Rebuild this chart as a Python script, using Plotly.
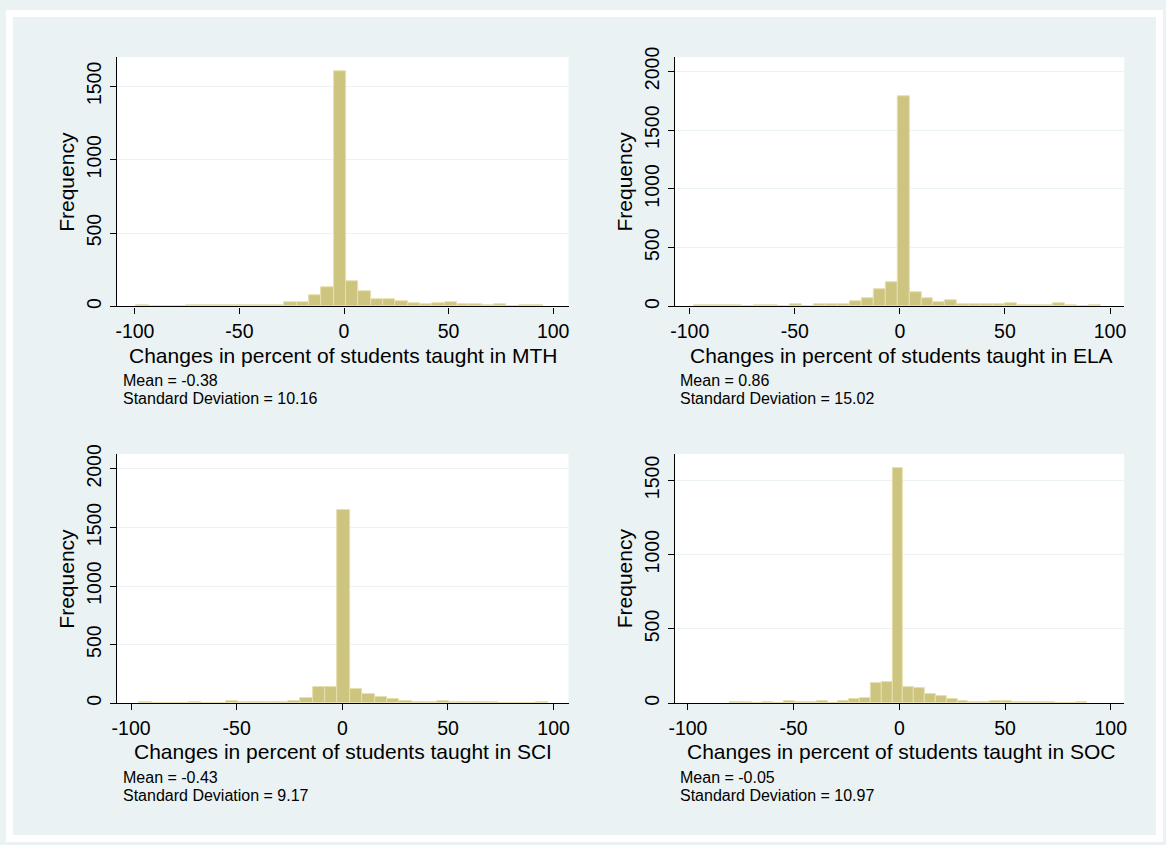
import plotly.graph_objects as go

W, H = 1166, 845

# ---- data ----
subjects = ["MTH", "ELA", "SCI", "SOC"]
means = ["-0.38", "0.86", "-0.43", "-0.05"]
sds = ["10.16", "15.02", "9.17", "10.97"]

mth_start, mth_width = -99.3, 5.9
mth_counts = [8, 0, 0, 0, 6, 6, 6, 6, 7, 7, 7, 7, 25, 31, 78, 132, 1603, 173, 101, 49,
              49, 36, 22, 13, 18, 25, 13, 13, 9, 13, 4, 9, 9]

ela_start, ela_width = -97.9, 5.69
ela_counts = [6, 6, 6, 6, 0, 6, 6, 0, 22, 3, 14, 14, 22, 45, 67, 146, 207, 1784, 120, 70,
              34, 53, 20, 20, 20, 14, 28, 11, 11, 11, 28, 8, 0, 8]

sci_start, sci_width = -96.0, 5.86
sci_counts = [11, 0, 0, 0, 8, 0, 0, 22, 6, 6, 6, 6, 22, 42, 140, 140, 1647, 123, 76, 53,
              39, 20, 11, 11, 20, 11, 11, 11, 11, 0, 0, 0, 8]

soc_start, soc_width = -80.1, 5.12
soc_counts = [9, 9, 0, 9, 0, 15, 9, 9, 15, 0, 15, 31, 35, 137, 141, 1584, 110, 99, 62, 49,
              31, 15, 9, 9, 15, 15, 9, 9, 9, 9, 0, 0, 9]

x_ticks = [-100, -50, 0, 50, 100]
y_ticks_small = [0, 500, 1000, 1500]
y_ticks_big = [0, 500, 1000, 1500, 2000]

# ---- styling / layout ----
BG = "#EAF2F3"
FILL = "#CDC480"
EDGE = "#E6DFAE"
FONT = "Liberation Sans, Arial, Helvetica, sans-serif"

panels = [
    # (start, width, counts, plot px box (l, r, t, b), xrange, yrange, yticks)
    (mth_start, mth_width, mth_counts, (112, 567, 48, 301), [-108.5, 107.4], [0, 1698], y_ticks_small),
    (ela_start, ela_width, ela_counts, (674, 1127, 48, 301), [-107.1, 106.8], [0, 2120], y_ticks_big),
    (sci_start, sci_width, sci_counts, (112, 567, 451, 704), [-106.6, 107.1], [0, 2126], y_ticks_big),
    (soc_start, soc_width, soc_counts, (674, 1127, 451, 704), [-106.2, 106.4], [0, 1677], y_ticks_small),
]

fig = go.Figure()
annotations = []
layout = dict(
    width=W, height=H,
    margin=dict(l=0, r=0, t=0, b=0),
    paper_bgcolor=BG, plot_bgcolor="white",
    showlegend=False,
    font=dict(family=FONT, color="black"),
    bargap=0,
)

def px_x(p):
    return p / W

def px_y(p):
    return 1 - p / H

for i, (start, width, counts, box, xr, yr, yt) in enumerate(panels):
    n = i + 1
    xa = "x" if n == 1 else f"x{n}"
    ya = "y" if n == 1 else f"y{n}"
    centers = [start + width * (k + 0.5) for k in range(len(counts))]
    fig.add_trace(go.Bar(
        x=centers, y=counts, width=width,
        marker=dict(color=FILL, line=dict(color=EDGE, width=1)),
        xaxis=xa, yaxis=ya, hoverinfo="skip",
    ))
    l, r, t, b = box
    layout["xaxis" if n == 1 else f"xaxis{n}"] = dict(
        domain=[px_x(l), px_x(r)], range=xr, anchor=ya,
        tickvals=x_ticks, ticktext=[str(v) for v in x_ticks],
        ticks="outside", ticklen=6, tickwidth=1.3, tickcolor="black",
        showline=True, linecolor="black", linewidth=1.3,
        showgrid=False, zeroline=False,
        tickfont=dict(size=19.5, family=FONT, color="black"),
        ticklabelstandoff=1, fixedrange=True,
    )
    layout["yaxis" if n == 1 else f"yaxis{n}"] = dict(
        domain=[px_y(b), px_y(t)], range=yr, anchor=xa,
        tickvals=yt, ticktext=[str(v) for v in yt],
        ticks="outside", ticklen=6, tickwidth=1.3, tickcolor="black",
        showline=True, linecolor="black", linewidth=1.3,
        showgrid=True, gridcolor=BG, gridwidth=1.3, zeroline=False,
        tickangle=-90,
        tickfont=dict(size=19.5, family=FONT, color="black"),
        ticklabelstandoff=1, fixedrange=True,
    )
    # y title
    annotations.append(dict(
        text="Frequency", textangle=-90, x=px_x(l - 50.5), y=px_y((t + b) / 2),
        xref="paper", yref="paper", xanchor="center", yanchor="middle",
        showarrow=False, font=dict(size=21, family=FONT, color="black"),
    ))
    # x title
    annotations.append(dict(
        text=f"Changes in percent of students taught in {subjects[i]}",
        x=px_x(l + 228), y=px_y(b + 49.5),
        xref="paper", yref="paper", xanchor="center", yanchor="middle",
        showarrow=False, font=dict(size=21, family=FONT, color="black"),
    ))
    # notes
    annotations.append(dict(
        text=f"Mean = {means[i]}", x=px_x(l + 4.5), y=px_y(b + 75.5),
        xref="paper", yref="paper", xanchor="left", yanchor="middle",
        showarrow=False, borderpad=0, font=dict(size=16, family=FONT, color="black"),
    ))
    annotations.append(dict(
        text=f"Standard Deviation = {sds[i]}", x=px_x(l + 4.5), y=px_y(b + 93.5),
        xref="paper", yref="paper", xanchor="left", yanchor="middle",
        showarrow=False, borderpad=0, font=dict(size=16, family=FONT, color="black"),
    ))

layout["annotations"] = annotations
# thin white frame around the light background
edge = 7
layout["shapes"] = [
    dict(type="rect", xref="paper", yref="paper", x0=0, x1=1, y0=px_y(edge), y1=1,
         fillcolor="white", line=dict(width=0), layer="above"),
    dict(type="rect", xref="paper", yref="paper", x0=0, x1=1, y0=0, y1=px_y(H - edge),
         fillcolor="white", line=dict(width=0), layer="above"),
    dict(type="rect", xref="paper", yref="paper", x0=0, x1=px_x(edge), y0=0, y1=1,
         fillcolor="white", line=dict(width=0), layer="above"),
    dict(type="rect", xref="paper", yref="paper", x0=px_x(W - edge), x1=1, y0=0, y1=1,
         fillcolor="white", line=dict(width=0), layer="above"),
]
fig.update_layout(**layout)
fig.write_html("out.html")
